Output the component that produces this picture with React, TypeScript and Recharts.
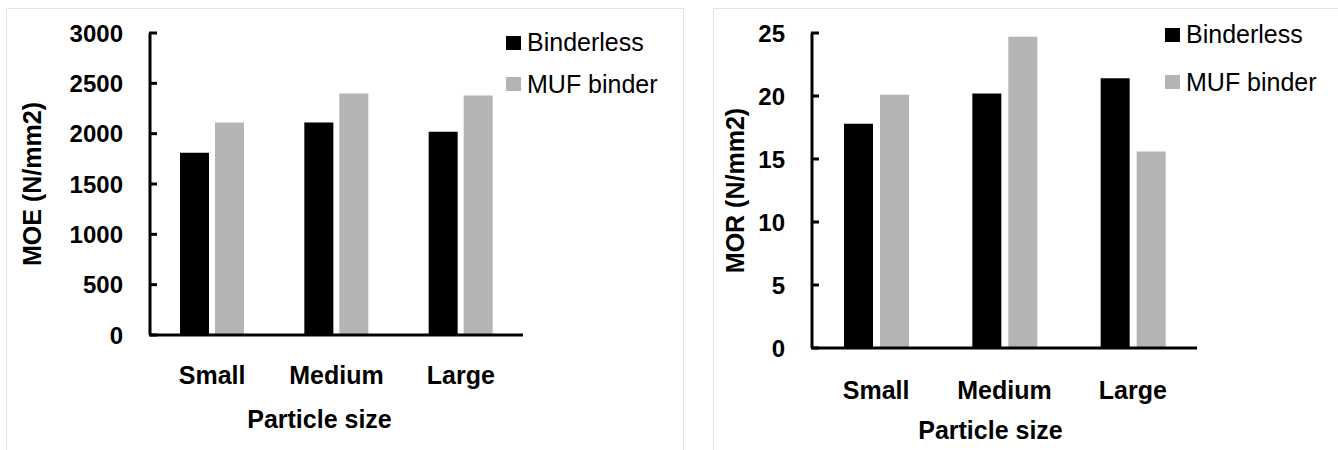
import { Bar, BarChart, Label, Legend, XAxis, YAxis } from 'recharts'

const categories = ['Small', 'Medium', 'Large']
const moeBinderless = [1810, 2110, 2020]
const moeMuf = [2110, 2400, 2380]
const moeTicks = [0, 500, 1000, 1500, 2000, 2500, 3000]
const morBinderless = [17.8, 20.2, 21.4]
const morMuf = [20.1, 24.7, 15.6]
const morTicks = [0, 5, 10, 15, 20, 25]

const FONT = "'Liberation Sans', Arial, sans-serif"
const BLACK = '#000000'
const GREY = '#b4b4b4'
const LABEL_GAP = 27

const moeData = categories.map((name, i) => ({ name, binderless: moeBinderless[i], muf: moeMuf[i] }))
const morData = categories.map((name, i) => ({ name, binderless: morBinderless[i], muf: morMuf[i] }))

// y tick: label left of the axis, short tick mark pointing into the plot
const YTick = (props: any) => {
  const { x, y, payload } = props
  const ax = Number(x) + LABEL_GAP
  return (
    <g>
      <line x1={ax - 1} x2={ax + 7} y1={y} y2={y} stroke={BLACK} strokeWidth={3} />
      <text
        x={x}
        y={y}
        textAnchor="end"
        dominantBaseline="central"
        fontFamily={FONT}
        fontWeight="bold"
        fontSize={24}
        fill={BLACK}
      >
        {payload.value}
      </text>
    </g>
  )
}

const yTitle = (text: string, offset: number) => (props: any) => {
  const vb = props.viewBox
  const x = vb.x + vb.width - offset
  const y = vb.y + vb.height / 2
  return (
    <text
      x={x}
      y={y}
      transform={`rotate(-90 ${x} ${y})`}
      textAnchor="middle"
      dominantBaseline="central"
      fontFamily={FONT}
      fontWeight="bold"
      fontSize={25}
      fill={BLACK}
    >
      {text}
    </text>
  )
}

const xTitle = (text: string, dx: number, dy: number) => (props: any) => {
  const vb = props.viewBox
  return (
    <text
      x={vb.x + vb.width / 2 + dx}
      y={vb.y + dy}
      textAnchor="middle"
      dominantBaseline="central"
      fontFamily={FONT}
      fontWeight="bold"
      fontSize={25}
      fill={BLACK}
    >
      {text}
    </text>
  )
}

const legendContent = (rowHeight: number) => (props: any) => (
  <div style={{ fontFamily: FONT, fontSize: 25, color: BLACK }}>
    {props.payload.map((p: any) => (
      <div key={p.value} style={{ display: 'flex', alignItems: 'center', height: rowHeight }}>
        <span style={{ width: 15, height: 14, background: p.color, marginRight: 6 }} />
        <span>{p.value}</span>
      </div>
    ))}
  </div>
)

const tickX = { fontFamily: FONT, fontSize: 25, fontWeight: 'bold', fill: BLACK }

export default function App() {
  return (
    <div style={{ position: 'absolute', left: 0, top: 0, width: 1338, height: 450, background: '#fff', overflow: 'hidden' }}>
      <div style={{ position: 'absolute', left: 6, top: 8, width: 676, height: 460, border: '1.5px solid #e3e3e3' }} />
      <div style={{ position: 'absolute', left: 713, top: 8, width: 640, height: 460, border: '1.5px solid #e3e3e3' }} />

      <div style={{ position: 'absolute', left: 0, top: 0 }}>
        <BarChart
          width={690}
          height={450}
          data={moeData}
          margin={{ top: 33, right: 167, left: 50, bottom: 55 }}
          barSize={29}
          barGap={6}
        >
          <XAxis
            dataKey="name"
            tick={tickX}
            tickLine={false}
            tickSize={0}
            tickMargin={31}
            height={60}
            axisLine={{ stroke: BLACK, strokeWidth: 3 }}
          >
            <Label content={xTitle('Particle size', -17, 84)} />
          </XAxis>
          <YAxis
            width={100}
            domain={[0, 3000]}
            ticks={moeTicks}
            interval={0}
            tick={<YTick />}
            tickLine={false}
            tickSize={0}
            tickMargin={LABEL_GAP}
            axisLine={{ stroke: BLACK, strokeWidth: 3 }}
          >
            <Label content={yTitle('MOE (N/mm2)', 118)} />
          </YAxis>
          <Legend
            layout="vertical"
            align="center"
            verticalAlign="middle"
            wrapperStyle={{ left: 506, top: 22, width: 170 }}
            content={legendContent(41.5)}
          />
          <Bar dataKey="binderless" name="Binderless" fill={BLACK} isAnimationActive={false} />
          <Bar dataKey="muf" name="MUF binder" fill={GREY} isAnimationActive={false} />
        </BarChart>
      </div>

      <div style={{ position: 'absolute', left: 0, top: 0 }}>
        <BarChart
          width={1338}
          height={450}
          data={morData}
          margin={{ top: 33, right: 141, left: 712, bottom: 42 }}
          barSize={29}
          barGap={7}
        >
          <XAxis
            dataKey="name"
            tick={tickX}
            tickLine={false}
            tickSize={0}
            tickMargin={33}
            height={60}
            axisLine={{ stroke: BLACK, strokeWidth: 3 }}
          >
            <Label content={xTitle('Particle size', -14, 82)} />
          </XAxis>
          <YAxis
            width={100}
            domain={[0, 25]}
            ticks={morTicks}
            interval={0}
            tick={<YTick />}
            tickLine={false}
            tickSize={0}
            tickMargin={LABEL_GAP}
            axisLine={{ stroke: BLACK, strokeWidth: 3 }}
          >
            <Label content={yTitle('MOR (N/mm2)', 77)} />
          </YAxis>
          <Legend
            layout="vertical"
            align="center"
            verticalAlign="middle"
            wrapperStyle={{ left: 1165, top: 11, width: 170 }}
            content={legendContent(47.5)}
          />
          <Bar dataKey="binderless" name="Binderless" fill={BLACK} isAnimationActive={false} />
          <Bar dataKey="muf" name="MUF binder" fill={GREY} isAnimationActive={false} />
        </BarChart>
      </div>
    </div>
  )
}
